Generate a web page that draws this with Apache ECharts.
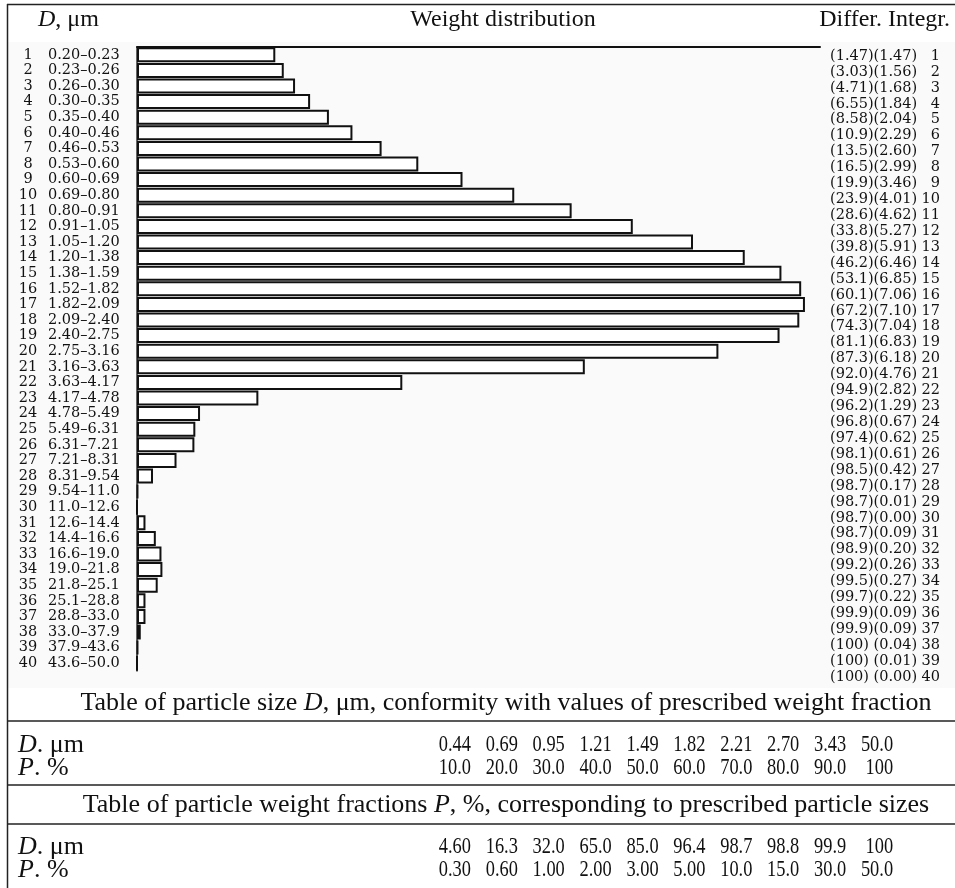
<!DOCTYPE html>
<html>
<head>
<meta charset="utf-8">
<script src="https://cdn.jsdelivr.net/npm/echarts@6/dist/echarts.min.js"></script>
<style>html,body{margin:0;padding:0;background:#fff}#c{width:955px;height:888px}</style>
</head>
<body>
<div id="c"></div>
<script>
const sizeRanges = ["0.20–0.23","0.23–0.26","0.26–0.30","0.30–0.35","0.35–0.40","0.40–0.46","0.46–0.53","0.53–0.60","0.60–0.69","0.69–0.80",
  "0.80–0.91","0.91–1.05","1.05–1.20","1.20–1.38","1.38–1.59","1.52–1.82","1.82–2.09","2.09–2.40","2.40–2.75","2.75–3.16",
  "3.16–3.63","3.63–4.17","4.17–4.78","4.78–5.49","5.49–6.31","6.31–7.21","7.21–8.31","8.31–9.54","9.54–11.0","11.0–12.6",
  "12.6–14.4","14.4–16.6","16.6–19.0","19.0–21.8","21.8–25.1","25.1–28.8","28.8–33.0","33.0–37.9","37.9–43.6","43.6–50.0"];
const cumulative = [1.47,3.03,4.71,6.55,8.58,10.9,13.5,16.5,19.9,23.9,28.6,33.8,39.8,46.2,53.1,60.1,67.2,74.3,81.1,87.3,
  92.0,94.9,96.2,96.8,97.4,98.1,98.5,98.7,98.7,98.7,98.7,98.9,99.2,99.5,99.7,99.9,99.9,100,100,100];
const fraction = [1.47,1.56,1.68,1.84,2.04,2.29,2.60,2.99,3.46,4.01,4.62,5.27,5.91,6.46,6.85,7.06,7.10,7.04,6.83,6.18,
  4.76,2.82,1.29,0.67,0.62,0.61,0.42,0.17,0.01,0.00,0.09,0.20,0.26,0.27,0.22,0.09,0.09,0.04,0.01,0.00];
const table1D = ["0.44","0.69","0.95","1.21","1.49","1.82","2.21","2.70","3.43","50.0"];
const table1P = ["10.0","20.0","30.0","40.0","50.0","60.0","70.0","80.0","90.0","100"];
const table2D = ["4.60","16.3","32.0","65.0","85.0","96.4","98.7","98.8","99.9","100"];
const table2P = ["0.30","0.60","1.00","2.00","3.00","5.00","10.0","15.0","30.0","50.0"];

const SERIF = '"Liberation Serif", "Times New Roman", serif';
const LBL = '"DejaVu Serif", serif';

function fmtCum(v){ return v >= 100 ? '100' : (v >= 10 ? v.toFixed(1) : v.toFixed(2)); }

const chart = echarts.init(document.getElementById('c'), null, {renderer:'canvas', width:955, height:888});

const graphics = [];
graphics.push({type:'rect', z:-10, shape:{x:8,y:42,width:947,height:646}, style:{fill:'#fafafa'}});
graphics.push({type:'line', shape:{x1:7.5,y1:4,x2:7.5,y2:888}, style:{stroke:'#222',lineWidth:1.5}});
graphics.push({type:'line', shape:{x1:7,y1:4.5,x2:955,y2:4.5}, style:{stroke:'#222',lineWidth:1.5}});
[721,785,824].forEach(y=>graphics.push({type:'line', shape:{x1:7,y1:y,x2:955,y2:y}, style:{stroke:'#222',lineWidth:1.5}}));
const it24 = {i:{fontStyle:'italic', fontFamily:SERIF, fontSize:24, fill:'#111'}};
const it26 = {i:{fontStyle:'italic', fontFamily:SERIF, fontSize:26, fill:'#111'}};
graphics.push({type:'text', style:{text:'{i|D}, μm', x:38, y:20, fontFamily:SERIF, fontSize:24, fill:'#111', textVerticalAlign:'middle', rich:it24}});
graphics.push({type:'text', style:{text:'Weight distribution', x:503, y:20, fontFamily:SERIF, fontSize:24, fill:'#111', textAlign:'center', textVerticalAlign:'middle'}});
graphics.push({type:'text', style:{text:'Differ. Integr.', x:950, y:20, fontFamily:SERIF, fontSize:24, fill:'#111', textAlign:'right', textVerticalAlign:'middle'}});
graphics.push({type:'text', style:{text:'Table of particle size {i|D}, μm, conformity with values of prescribed weight fraction', x:506, y:703, fontFamily:SERIF, fontSize:26, fill:'#111', textAlign:'center', textVerticalAlign:'middle', rich:it26}});
graphics.push({type:'text', style:{text:'Table of particle weight fractions {i|P}, %, corresponding to prescribed particle sizes', x:506, y:805, fontFamily:SERIF, fontSize:26, fill:'#111', textAlign:'center', textVerticalAlign:'middle', rich:it26}});
const rowDefs = [[table1D,'{i|D}. μm',745],[table1P,'{i|P}. %',768],[table2D,'{i|D}. μm',847],[table2P,'{i|P}. %',870]];
rowDefs.forEach(([arr,name,y])=>{
  graphics.push({type:'text', style:{text:name, x:18, y:y, fontFamily:SERIF, fontSize:26, fill:'#111', textVerticalAlign:'middle', rich:it26}});
  arr.forEach((s,i)=>{
    graphics.push({type:'text', x:471 + i*46.9, y:y, scaleX:0.8,
      style:{text:s, x:0, y:0, fontFamily:SERIF, fontSize:23, fill:'#111', textAlign:'right', textVerticalAlign:'middle'}});
  });
});

const option = {
  backgroundColor:'#fff',
  animation:false,
  grid:[
    {left:137, right:135, top:47, height:624},
    {left:137, right:135, top:48, height:637}
  ],
  xAxis:[
    {gridIndex:0, type:'value', position:'top', min:0, max:7.26,
     axisLine:{show:true, lineStyle:{color:'#111', width:2}}, axisTick:{show:false}, axisLabel:{show:false}, splitLine:{show:false}},
    {gridIndex:1, type:'value', show:false, min:0, max:7.26}
  ],
  yAxis:[
    {gridIndex:0, type:'category', data:sizeRanges, inverse:true,
     axisLine:{show:true, lineStyle:{color:'#333', width:1.5}}, axisTick:{show:false}, splitLine:{show:false},
     axisLabel:{align:'left', margin:119, interval:0,
       formatter:(v,i)=>'{n|'+(i+1)+'}{r|'+v+'}',
       rich:{n:{width:20, align:'right', fontFamily:LBL, fontSize:14.5, color:'#111'},
             r:{padding:[0,0,0,10], fontFamily:LBL, fontSize:14.5, color:'#111'}}}},
    {gridIndex:1, type:'category', data:sizeRanges, inverse:true, position:'right',
     axisLine:{show:false}, axisTick:{show:false}, splitLine:{show:false},
     axisLabel:{margin:10, interval:0,
       formatter:(v,i)=>{ const c=cumulative[i]; const s='('+fmtCum(c)+')'+(c>=100?' ':'')+'('+fraction[i].toFixed(2)+')'; return '{a|'+s+'}{b|'+(i+1)+'}'; },
       rich:{a:{width:86, fontFamily:LBL, fontSize:14.5, color:'#111'},
             b:{width:24, align:'right', fontFamily:LBL, fontSize:14.5, color:'#111'}}}}
  ],
  series:[
    {type:'bar', xAxisIndex:0, yAxisIndex:0, data:fraction, barCategoryGap:'4%',
     itemStyle:{color:'#fff', borderColor:'#111', borderWidth:2}, silent:true}
  ],
  graphic:graphics
};
chart.setOption(option);
</script>
</body>
</html>
